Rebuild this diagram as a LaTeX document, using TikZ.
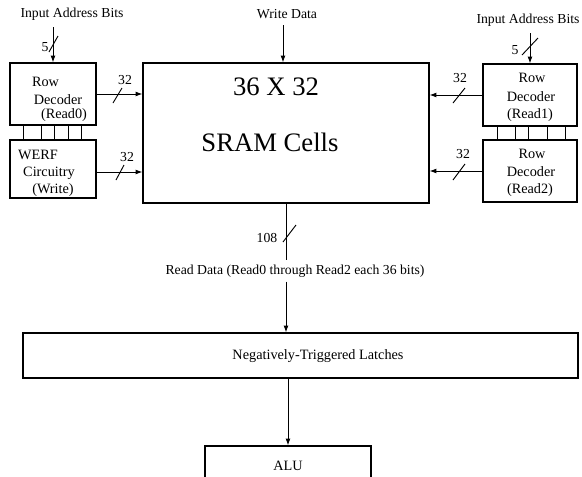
\documentclass[tikz,border=0pt]{standalone}
\usepackage{fontspec}
\setmainfont{Liberation Serif}
\usetikzlibrary{arrows.meta}
\def\px{0.75pt}
\tikzset{
  blk/.style={draw, line width=0.9pt, inner sep=0pt},
  boxtxt/.style={font=\fontsize{10.7}{13.9}\selectfont, inner sep=1pt},
  lbl/.style={font=\fontsize{10.3}{12}\selectfont, inner sep=1pt},
  big/.style={font=\fontsize{20}{24}\selectfont, inner sep=1pt},
  wire/.style={line width=0.7pt},
}

\begin{document}
\begin{tikzpicture}[x=0.75pt, y=-0.75pt, >={Latex[length=5pt,width=3.6pt]}]
	\useasboundingbox (0,0) rectangle (582,476);

	% --- Blocks ---
	\node[blk, minimum width=86*\px, minimum height=62*\px] (rd0) at (53,94) {};
	\node[blk, minimum width=86*\px, minimum height=58*\px] (werf) at (53,169) {};
	\node[blk, minimum width=94*\px, minimum height=62*\px] (rd1) at (530,95) {};
	\node[blk, minimum width=94*\px, minimum height=62*\px] (rd2) at (530,171) {};
	\node[blk, minimum width=286*\px, minimum height=140*\px] (sram) at (286,133) {};
	\node[blk, minimum width=555*\px, minimum height=45*\px] (latch) at (300.5,355.5) {};
	\node[blk, boxtxt, minimum width=166*\px, minimum height=40*\px] (alu) at (288,466) {ALU};

	% --- Block texts ---
	\node[boxtxt] (rd0a) at (45.5,82) {Row};
	\node[boxtxt] (rd0b) at (58,100) {Decoder};
	\node[boxtxt] (rd0c) at (64,115) {(Read0)};
	\node[boxtxt] (werfa) at (38,155) {WERF};
	\node[boxtxt] (werfb) at (49,173) {Circuitry};
	\node[boxtxt] (werfc) at (53,190) {(Write)};
	\node[boxtxt] (rd1a) at (532,78) {Row};
	\node[boxtxt] (rd1b) at (531,97) {Decoder};
	\node[boxtxt] (rd1c) at (530,115) {(Read1)};
	\node[boxtxt] (rd2a) at (532,154) {Row};
	\node[boxtxt] (rd2b) at (531,172) {Decoder};
	\node[boxtxt] (rd2c) at (530,190) {(Read2)};
	\node[big] (dims) at (276,87) {36 X 32};
	\node[big] (cells) at (270,142) {SRAM Cells};
	\node[boxtxt] (latchtxt) at (318,356) {Negatively-Triggered Latches};

	% --- Links between stacked blocks ---
	\foreach \x in {23,41,54,68,81}
		\draw[wire] (\x,0 |- rd0.south) -- (\x,0 |- werf.north);
	\foreach \x in {497,515,528,547,565}
		\draw[wire] (\x,0 |- rd1.south) -- (\x,0 |- rd2.north);

	% --- Inputs ---
	\node[lbl] (addrL) at (72,14) {Input Address Bits};
	\node[lbl] (addrR) at (528,20) {Input Address Bits};
	\node[lbl] (wdata) at (287,14) {Write Data};
	\coordinate (inL) at (53,27);
	\coordinate (inR) at (530,33);
	\coordinate (inW) at (283,25);
	\draw[wire, ->] (inL) -- (rd0.north);
	\draw[wire, ->] (inR) -- (rd1.north);
	\draw[wire, ->] (inW) -- (inW |- sram.north);
	\draw[wire] (49,52) -- (58,36);
	\node[lbl] (nL) at (45,47) {5};
	\draw[wire] (522,55) -- (538,38);
	\node[lbl] (nR) at (515,50) {5};

	% --- Word lines into the array ---
	\coordinate (werfout) at ([yshift=-3*\px]werf.east);
	\draw[wire, ->] (rd0.east) -- (sram.west |- rd0.east);
	\draw[wire, ->] (werfout) -- (sram.west |- werfout);
	\draw[wire, ->] (rd1.west) -- (sram.east |- rd1.west);
	\draw[wire, ->] (rd2.west) -- (sram.east |- rd2.west);
	\draw[wire] (113,103) -- (122,88);
	\node[lbl] (w0) at (125,80) {32};
	\draw[wire] (116,180) -- (124,165);
	\node[lbl] (w1) at (127,157) {32};
	\draw[wire] (453,103) -- (465,88);
	\node[lbl] (w2) at (460,78) {32};
	\draw[wire] (453,180) -- (465,164);
	\node[lbl] (w3) at (463,154) {32};

	% --- Read path ---
	\node[lbl, inner sep=3pt] (rdata) at (295,271) {Read Data (Read0 through Read2 each 36 bits)};
	\draw[wire] (sram.south) -- (sram.south |- rdata.north);
	\draw[wire] (283,242) -- (296,225);
	\node[lbl] (w108) at (267,238) {108};
	\draw[wire, ->] (sram.south |- rdata.south) -- (sram.south |- latch.north);
	\draw[wire, ->] (latch.south -| alu.north) -- (alu.north);
\end{tikzpicture}
\end{document}
